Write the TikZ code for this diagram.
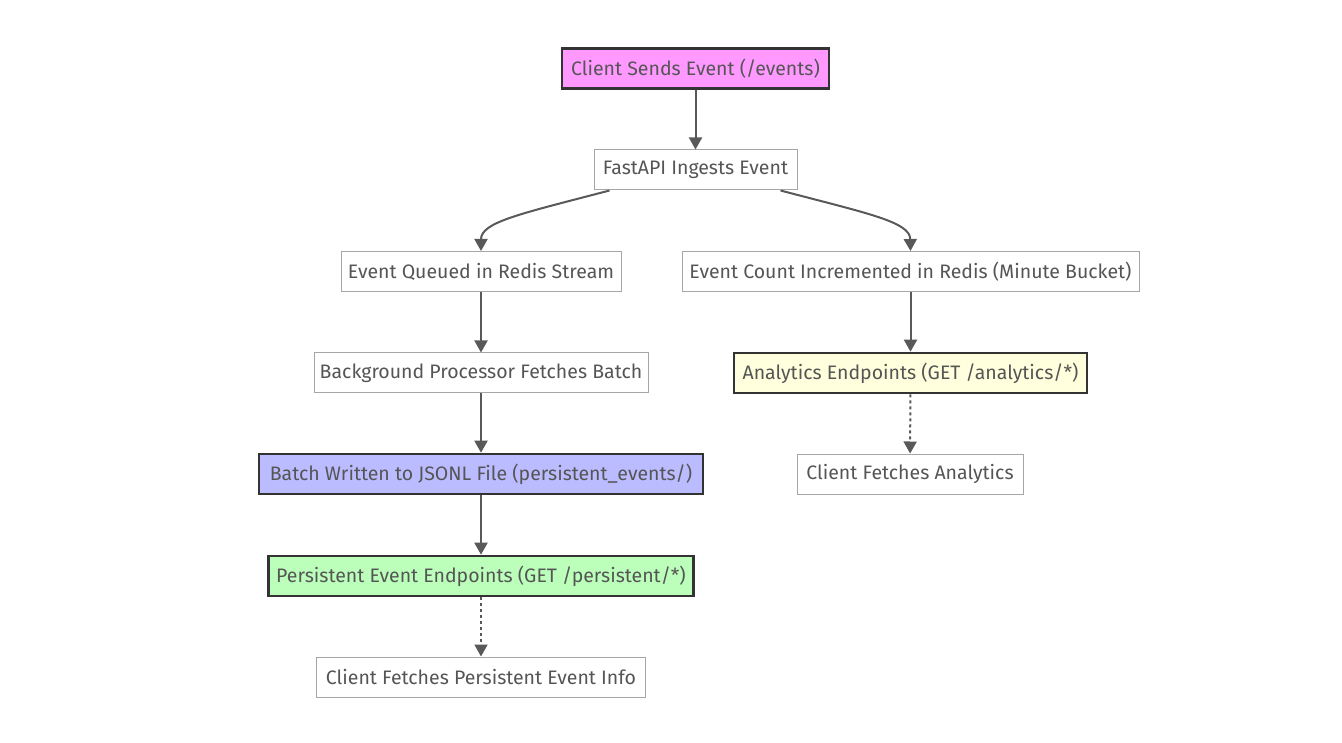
\documentclass[tikz,border=0pt]{standalone}
\usepackage{fontspec}
\setmainfont{Fira Sans}
\usetikzlibrary{arrows.meta}
\definecolor{txt}{HTML}{555555}
\definecolor{edge}{HTML}{595959}
\definecolor{thin}{HTML}{A6A6A6}
\definecolor{thick}{HTML}{333333}
\definecolor{pinkf}{HTML}{FF99FF}
\definecolor{bluef}{HTML}{BBBBFF}
\definecolor{greenf}{HTML}{BBFFBB}
\definecolor{yelf}{HTML}{FFFFDD}
\begin{document}
\begin{tikzpicture}[x=1pt,y=-1pt,
  box/.style={draw=thin,line width=1pt,fill=white,text=txt,minimum height=40pt,inner sep=0pt,font=\fontsize{19.5}{22}\selectfont},
  hbox/.style={box,draw=thick,line width=2.6pt},
  link/.style={draw=edge,line width=2pt,-{Triangle[length=12pt,width=13pt]}},
  dlink/.style={link,dash pattern=on 3pt off 3pt}]
\useasboundingbox (0,0) rectangle (1342,743);
\node[hbox,fill=pinkf,minimum width=267pt] (client) at (695.5,68.5) {\raisebox{-2pt}{Client Sends Event (/events)}};
\node[box,minimum width=203pt] (fast) at (695.5,170) {\raisebox{-2pt}{FastAPI Ingests Event}};
\node[box,minimum width=280pt] (queue) at (481,271.5) {\raisebox{-2pt}{Event Queued in Redis Stream}};
\node[box,minimum width=457pt] (count) at (910.5,271.5) {\raisebox{-2pt}{Event Count Incremented in Redis (Minute Bucket)}};
\node[box,minimum width=334pt] (bg) at (481,373) {\raisebox{-2pt}{Background Processor Fetches Batch}};
\node[hbox,fill=yelf,minimum width=353pt] (ana) at (910.5,373) {\raisebox{-2pt}{Analytics Endpoints (GET /analytics/*)}};
\node[hbox,fill=bluef,minimum width=444pt] (batch) at (481,474) {\raisebox{-2pt}{Batch Written to JSONL File (persistent\_events/)}};
\node[box,minimum width=226pt] (cfa) at (910,474) {\raisebox{-2pt}{Client Fetches Analytics}};
\node[hbox,fill=greenf,minimum width=425pt] (pers) at (481,576) {\raisebox{-2pt}{Persistent Event Endpoints (GET /persistent/*)}};
\node[box,minimum width=329pt] (cfp) at (481,677) {\raisebox{-2pt}{Client Fetches Persistent Event Info}};
\draw[link] (client) -- (fast);
\draw[link] ([xshift=16pt]fast.south west) .. controls (520,214) and (481,222) .. (queue.north);
\draw[link] ([xshift=-17pt]fast.south east) .. controls (870,214) and (910,222) .. (count.north);
\draw[link] (queue) -- (bg);
\draw[link] (bg) -- (batch);
\draw[link] (batch) -- (pers);
\draw[dlink] (pers) -- (cfp);
\draw[link] (count) -- (ana);
\draw[dlink] (ana) -- (cfa);
\end{tikzpicture}
\end{document}
